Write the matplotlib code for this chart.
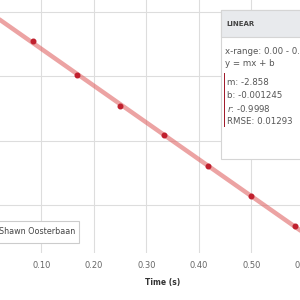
import numpy as np
import matplotlib
matplotlib.use("Agg")
from matplotlib import pyplot as plt
from matplotlib.patches import Rectangle

# measured data (time in s, position)
time_s = [0.0833, 0.1667, 0.2500, 0.3333, 0.4167, 0.5000, 0.5833]
pos = [-0.228, -0.486, -0.728, -0.952, -1.193, -1.427, -1.660]

# linear fit results shown in the box
slope = -2.858
intercept = -0.001245
fit_range = [0.0, 0.62]
fit_lines = ["m: -2.858", "b: -0.001245", "r: -0.9998", "RMSE: 0.01293"]

x_ticks = [0.0, 0.1, 0.2, 0.3, 0.4, 0.5, 0.6]
y_ticks = [-1.5, -1.0, -0.5, 0.0]

W = H = 300.0


def px(x, y):
    """ screen pixel (from top-left) -> figure fraction """
    return x / W, 1 - y / H


fig = plt.figure(figsize=(3, 3), dpi=100)
# axes deliberately larger than the figure (the screenshot is cropped)
ax = fig.add_axes([-37.25 / W, 1 - 253.0 / H, 367.5 / W, 279.64 / H])

ax.set_xticks(x_ticks)
ax.set_xticklabels([f"{t:.2f}" for t in x_ticks])
ax.set_yticks(y_ticks)
ax.set_yticklabels([])
ax.set_xlim(-0.05, 0.65)
ax.set_ylim(-1.871, 0.3)
ax.tick_params(length=0, labelsize=6, labelcolor="#666666", pad=6)
ax.grid(True, color="#dddddd", linewidth=0.8)
for s in ax.spines.values():
    s.set_visible(False)

xf = np.array(fit_range)
ax.plot(xf, slope * xf + intercept, color="#e06666", alpha=0.6, lw=3.2,
        solid_capstyle="butt", zorder=2)
ax.plot(time_s, pos, "o", color="#c0202e", ms=3.3, zorder=3)

fig.text(*px(163, 283), "Time (s)", fontsize=5.5, fontweight="bold",
         color="#333333", ha="center", va="center")

# legend box (cropped on the left)
lx, ly = px(-30, 243)
fig.patches.append(Rectangle((lx, ly), 109 / W, 22 / H, transform=fig.transFigure,
                             facecolor="white", edgecolor="#cccccc", lw=0.8, zorder=5))
fig.text(*px(-1, 232), "Shawn Oosterbaan", fontsize=5.8, color="#444444",
         ha="left", va="center", zorder=6)

# fit info box
bx, by = px(221, 159)
fig.patches.append(Rectangle((bx, by), 100 / W, 149 / H, transform=fig.transFigure,
                             facecolor="white", edgecolor="#d5d5d5", lw=0.8, zorder=5))
hx, hy = px(221, 37)
fig.patches.append(Rectangle((hx, hy), 100 / W, 27 / H, transform=fig.transFigure,
                             facecolor="#e8eaed", edgecolor="#d5d5d5", lw=0.8, zorder=5))
fig.text(*px(226, 24), "LINEAR", fontsize=5, fontweight="bold", color="#444444",
         ha="left", va="center", zorder=6)
fig.text(*px(225, 52), f"x-range: {fit_range[0]:.2f} - {fit_range[1]:.2f}",
         fontsize=6.2, color="#555555", ha="left", va="center", zorder=6)
fig.text(*px(225, 63), "y = mx + b", fontsize=6.2, color="#555555",
         ha="left", va="center", zorder=6)
rx, ry = px(224, 127)
fig.patches.append(Rectangle((rx, ry), 1.0 / W, 54 / H, transform=fig.transFigure,
                             facecolor="#a01c2c", edgecolor="none", zorder=6))
for i, txt in enumerate(fit_lines):
    if txt.startswith("r:"):
        txt = r"$\it{r}$" + txt[1:]
    fig.text(*px(227, 83 + i * 12.8), txt, fontsize=6.2, color="#555555",
             ha="left", va="center", zorder=6)

fig.savefig("out.png", dpi=100)
